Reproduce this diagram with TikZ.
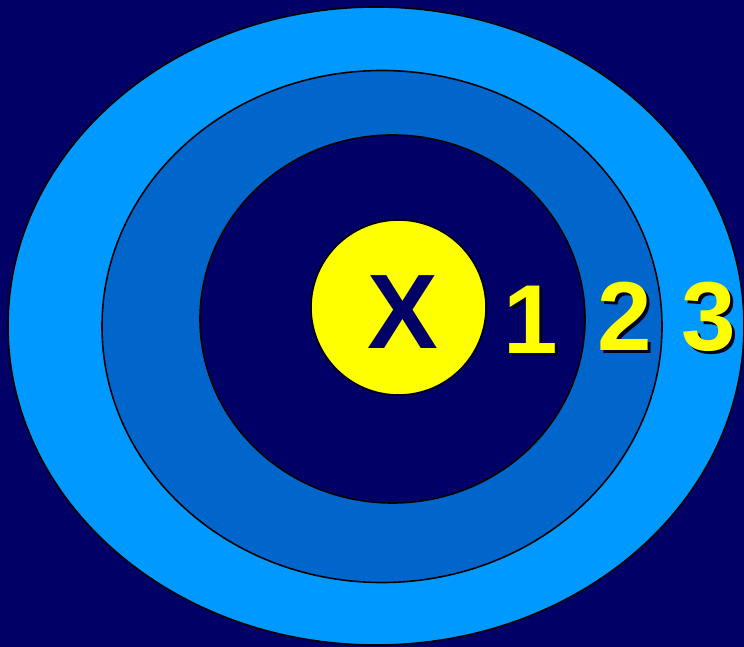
\documentclass[tikz,border=0pt]{standalone}
\usepackage{fontspec}
\setmainfont{Liberation Sans}
\definecolor{bgnavy}{HTML}{000066}
\definecolor{ringlight}{HTML}{0099FF}
\definecolor{ringmid}{HTML}{0066CC}
\definecolor{ylw}{HTML}{FFFF00}
\definecolor{shade}{HTML}{00001A}
\newcommand{\shadowed}[1]{\makebox[0pt][l]{\hspace{3pt}\raisebox{-3pt}{\color{shade}#1}}#1}
\tikzset{
  ring/.style={draw=black, line width=1.6pt},
  numlabel/.style={inner sep=0pt, anchor=base, text=ylw, font=\bfseries\fontsize{98}{100}\selectfont},
}
\begin{document}
\begin{tikzpicture}[x=1pt,y=-1pt]
\useasboundingbox (0,0) rectangle (744,647);
\fill[bgnavy] (0,0) rectangle (744,647);
\filldraw[ring, fill=ringlight] (376,326) ellipse [x radius=368, y radius=319];
\filldraw[ring, fill=ringmid] (382,326.5) ellipse [x radius=280, y radius=256];
\filldraw[ring, fill=bgnavy] (392.5,319) ellipse [x radius=192.5, y radius=184];
\node[ring, fill=ylw, circle, minimum size=175pt, inner sep=0pt] (x) at (398.5,307.5) {};
\node[inner sep=0pt, anchor=base, text=bgnavy, font=\bfseries\fontsize{106}{108}\selectfont] (xl) at (402.5,348) {X};
\node[numlabel] (n1) at (531,353) {\shadowed{1}};
\node[numlabel] (n2) at (624.5,350) {\shadowed{2}};
\node[numlabel] (n3) at (709,350) {\shadowed{3}};
\end{tikzpicture}
\end{document}
